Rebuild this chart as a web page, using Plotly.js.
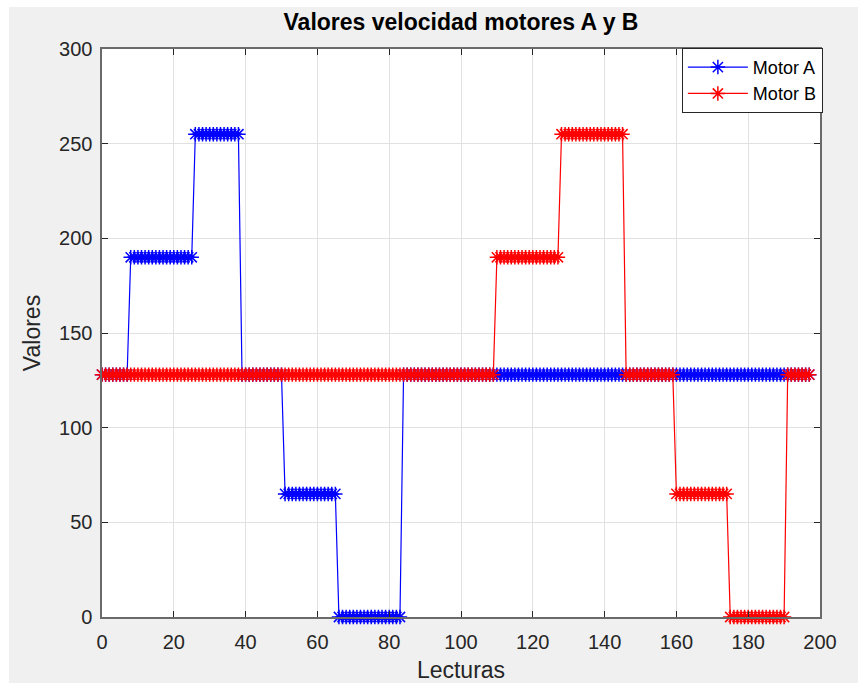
<!DOCTYPE html>
<html>
<head>
<meta charset="utf-8">
<script src="https://cdn.plot.ly/plotly-3.0.1.min.js"></script>
<style>
  html, body { margin: 0; padding: 0; background: #ffffff; width: 858px; height: 685px; overflow: hidden; }
  #chart { position: absolute; left: 9px; top: 7px; width: 849px; height: 676px; }
</style>
</head>
<body>
<div id="chart"></div>
<script>
// Lecturas (readings) are the array index: 0, 1, 2, ...
const motorA = [
  128,128,128,128,128,128,128,128,190,190,
  190,190,190,190,190,190,190,190,190,190,
  190,190,190,190,190,190,255,255,255,255,
  255,255,255,255,255,255,255,255,255,128,
  128,128,128,128,128,128,128,128,128,128,
  128,65,65,65,65,65,65,65,65,65,
  65,65,65,65,65,65,0,0,0,0,
  0,0,0,0,0,0,0,0,0,0,
  0,0,0,0,128,128,128,128,128,128,
  128,128,128,128,128,128,128,128,128,128,
  128,128,128,128,128,128,128,128,128,128,
  128,128,128,128,128,128,128,128,128,128,
  128,128,128,128,128,128,128,128,128,128,
  128,128,128,128,128,128,128,128,128,128,
  128,128,128,128,128,128,128,128,128,128,
  128,128,128,128,128,128,128,128,128,128,
  128,128,128,128,128,128,128,128,128,128,
  128,128,128,128,128,128,128,128,128,128,
  128,128,128,128,128,128,128,128,128,128,
  128,128,128,128,128,128,128,128
];
const motorB = [
  128,128,128,128,128,128,128,128,128,128,
  128,128,128,128,128,128,128,128,128,128,
  128,128,128,128,128,128,128,128,128,128,
  128,128,128,128,128,128,128,128,128,128,
  128,128,128,128,128,128,128,128,128,128,
  128,128,128,128,128,128,128,128,128,128,
  128,128,128,128,128,128,128,128,128,128,
  128,128,128,128,128,128,128,128,128,128,
  128,128,128,128,128,128,128,128,128,128,
  128,128,128,128,128,128,128,128,128,128,
  128,128,128,128,128,128,128,128,128,128,
  190,190,190,190,190,190,190,190,190,190,
  190,190,190,190,190,190,190,190,255,255,
  255,255,255,255,255,255,255,255,255,255,
  255,255,255,255,255,255,128,128,128,128,
  128,128,128,128,128,128,128,128,128,128,
  65,65,65,65,65,65,65,65,65,65,
  65,65,65,65,65,0,0,0,0,0,
  0,0,0,0,0,0,0,0,0,0,
  0,128,128,128,128,128,128,128
];
const seriesNames = ['Motor A', 'Motor B'];
const seriesColors = ['#0000ff', '#ff0000'];
const xTicks = [0, 20, 40, 60, 80, 100, 120, 140, 160, 180, 200];
const yTicks = [0, 50, 100, 150, 200, 250, 300];

const idx = arr => arr.map((_, i) => i);
const FONT = '"Liberation Sans", Arial, Helvetica, sans-serif';

function trace(vals, k) {
  return {
    x: idx(vals), y: vals, type: 'scatter', mode: 'lines+markers',
    name: seriesNames[k],
    line: { color: seriesColors[k], width: 1.2 },
    marker: { symbol: 'asterisk-open', size: 12, color: seriesColors[k], line: { color: seriesColors[k], width: 1.5 } },
    cliponaxis: false
  };
}

const axisCommon = {
  showline: true, mirror: 'ticks', linecolor: '#6a6a6a', linewidth: 1.6,
  ticks: 'inside', ticklen: 6, tickwidth: 1, tickcolor: '#262626',
  showgrid: true, gridcolor: '#e1e1e1', gridwidth: 1, zeroline: false,
  tickfont: { family: FONT, size: 20, color: '#262626' }
};

const layout = {
  width: 849, height: 676,
  paper_bgcolor: '#f0f0f0', plot_bgcolor: '#ffffff',
  margin: { l: 93, r: 38, t: 42, b: 66 },
  font: { family: FONT, color: '#262626' },
  title: { text: '<b>Valores velocidad motores A y B</b>', font: { family: FONT, size: 23, color: '#000000' },
           x: 0.5, xref: 'paper', xanchor: 'center', y: 0.978, yref: 'container', yanchor: 'middle' },
  xaxis: Object.assign({}, axisCommon, {
    range: [0, 200], tickvals: xTicks, ticktext: xTicks.map(String), ticklabelstandoff: 6,
    title: { text: 'Lecturas', font: { family: FONT, size: 23, color: '#262626' }, standoff: 12 }
  }),
  yaxis: Object.assign({}, axisCommon, {
    range: [0, 300], tickvals: yTicks, ticktext: yTicks.map(String), ticklabelstandoff: 4,
    title: { text: 'Valores', font: { family: FONT, size: 23, color: '#262626' }, standoff: 12 }
  }),
  showlegend: true,
  legend: {
    x: 1.004, xanchor: 'right', y: 1.002, yanchor: 'top',
    bgcolor: '#ffffff', bordercolor: '#262626', borderwidth: 1,
    font: { family: FONT, size: 18, color: '#000000' },
    itemwidth: 60, tracegroupgap: 0
  }
};

Plotly.newPlot('chart', [trace(motorA, 0), trace(motorB, 1)], layout, { displayModeBar: false, staticPlot: true });
</script>
</body>
</html>
